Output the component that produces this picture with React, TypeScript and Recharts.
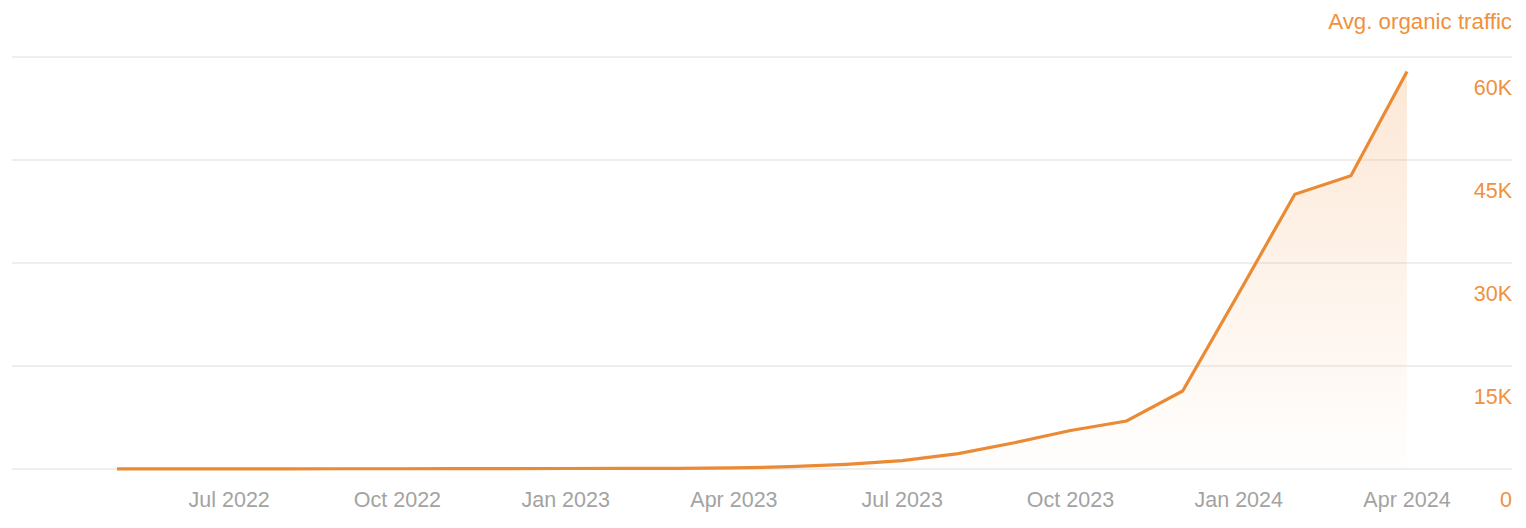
import React from 'react';
import { AreaChart, Area, XAxis, YAxis, CartesianGrid } from 'recharts';

const months = [
  'May 2022', 'Jun 2022', 'Jul 2022', 'Aug 2022', 'Sep 2022', 'Oct 2022',
  'Nov 2022', 'Dec 2022', 'Jan 2023', 'Feb 2023', 'Mar 2023', 'Apr 2023',
  'May 2023', 'Jun 2023', 'Jul 2023', 'Aug 2023', 'Sep 2023', 'Oct 2023',
  'Nov 2023', 'Dec 2023', 'Jan 2024', 'Feb 2024', 'Mar 2024', 'Apr 2024',
];
const traffic = [
  10, 20, 25, 30, 35, 40, 50, 60, 70, 80, 90, 150,
  335, 685, 1210, 2230, 3830, 5610, 6990, 11360, 25600, 40000, 42700, 57900,
];
const xTickIndices = [2, 5, 8, 11, 14, 17, 20, 23];
const xTickLabels = ['Jul 2022', 'Oct 2022', 'Jan 2023', 'Apr 2023', 'Jul 2023', 'Oct 2023', 'Jan 2024', 'Apr 2024'];
const yTicks = [0, 15000, 30000, 45000, 60000];
const yTickLabels = ['0', '15K', '30K', '45K', '60K'];
const seriesName = 'Avg. organic traffic';

const data = months.map((m, i) => ({ i, month: m, traffic: traffic[i] }));

const ORANGE = '#EA8A34';
const TEXT_ORANGE = '#F0913C';
const GRAY = '#A3A3A3';
const FONT = '"Liberation Sans", Arial, Helvetica, sans-serif';
const FS = 21.5;
const W = 1526;
const H = 528;
const PLOT_RIGHT = 1512;

const XTick = (props: any) => {
  const { x, payload } = props;
  const idx = xTickIndices.indexOf(payload.value);
  return (
    <text x={x} y={507} textAnchor="middle" fill={GRAY} fontSize={FS} fontFamily={FONT}>
      {idx >= 0 ? xTickLabels[idx] : ''}
    </text>
  );
};

const YTick = (props: any) => {
  const { y, payload } = props;
  const idx = yTicks.indexOf(payload.value);
  return (
    <text x={PLOT_RIGHT} y={y + 38} textAnchor="end" fill={TEXT_ORANGE} fontSize={FS} fontFamily={FONT}>
      {idx >= 0 ? yTickLabels[idx] : ''}
    </text>
  );
};

export default function App() {
  return (
    <div style={{ position: 'absolute', left: 0, top: 0, width: W, height: H, background: '#fff' }}>
      <div
        style={{
          position: 'absolute',
          right: W - PLOT_RIGHT,
          top: 9,
          color: TEXT_ORANGE,
          fontSize: 22.3,
          fontFamily: FONT,
          lineHeight: '26px',
        }}
      >
        {seriesName}
      </div>
      <AreaChart width={W} height={H} data={data} margin={{ top: 57, right: 0, left: 12, bottom: 0 }}>
        <defs>
          <linearGradient id="trafficFill" x1="0" y1="0" x2="0" y2="1">
            <stop offset="0%" stopColor="#F4A867" stopOpacity={0.45} />
            <stop offset="100%" stopColor="#F4A867" stopOpacity={0.02} />
          </linearGradient>
        </defs>
        <CartesianGrid horizontal vertical={false} stroke="#E9E9E9" strokeWidth={1.5} />
        <XAxis
          type="number"
          dataKey="i"
          domain={[-1.872, 24.872]}
          ticks={xTickIndices}
          axisLine={false}
          tickLine={false}
          height={59}
          tick={<XTick />}
          interval={0}
        />
        <YAxis
          orientation="right"
          width={W - PLOT_RIGHT}
          domain={[0, 60000]}
          ticks={yTicks}
          axisLine={false}
          tickLine={false}
          tick={<YTick />}
          interval={0}
        />
        <Area
          type="linear"
          dataKey="traffic"
          stroke={ORANGE}
          strokeWidth={3.2}
          fill="url(#trafficFill)"
          isAnimationActive={false}
          dot={false}
          activeDot={false}
        />
      </AreaChart>
    </div>
  );
}
